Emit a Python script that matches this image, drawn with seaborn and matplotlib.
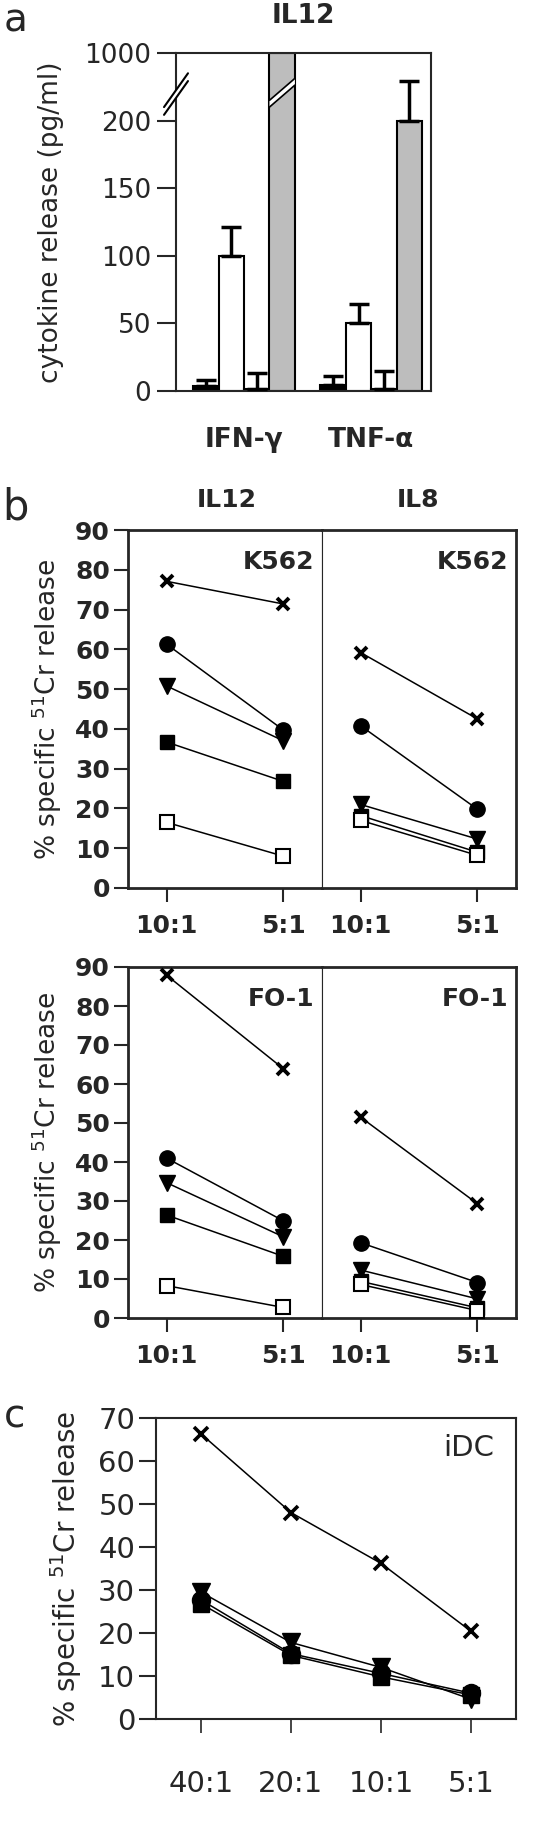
import numpy as np
import pandas as pd
import seaborn as sns
import matplotlib
matplotlib.use('Agg')
import matplotlib.pyplot as plt
import matplotlib.transforms as mtransforms
from matplotlib.patches import Polygon

sns.set_theme(style='ticks')
plt.rcParams['font.family'] = ['DejaVu Sans']
plt.rcParams['mathtext.default'] = 'regular'

# --- panel a: cytokine release (IL12) ---
cytokines = ['IFN-γ', 'TNF-α']
conditions = ['cond1', 'cond2', 'cond3', 'cond4']
release_ifn = [4, 100, 1.5, 1000]
release_tnf = [4.5, 50, 1.5, 200]
err_ifn = [4.5, 21, 12, 0]
err_tnf = [6.5, 14, 13, 29]
bar_colors = ['black', 'white', '#8c8c8c', '#bdbdbd']

# --- panel b: % specific 51Cr release, 10:1 and 5:1 ---
ratios_b = ['10:1', '5:1']
# order: cross, circle, triangle, filled square, open square
il12_k562 = [[77.1, 71.4], [61.3, 39.7], [50.8, 37.0], [36.7, 26.8], [16.5, 8.0]]
il8_k562 = [[59.2, 42.5], [40.8, 19.8], [21.0, 12.3], [18.2, 9.0], [17.0, 8.2]]
il12_fo1 = [[87.9, 63.9], [41.0, 24.9], [34.7, 20.8], [26.4, 15.8], [8.3, 2.7]]
il8_fo1 = [[51.5, 29.3], [19.3, 9.1], [12.3, 4.9], [9.4, 2.6], [8.6, 1.9]]

# --- panel c: iDC targets ---
ratios_c = ['40:1', '20:1', '10:1', '5:1']
idc = [[66.3, 48.0, 36.2, 20.4], [27.7, 15.2, 10.6, 6.0],
       [29.5, 17.8, 12.0, 4.6], [26.8, 14.8, 9.8, 5.6]]

marker_styles = [
    dict(marker='x', markersize=9, markeredgewidth=2.8, markerfacecolor='black'),
    dict(marker='o', markersize=11, markeredgewidth=1, markerfacecolor='black'),
    dict(marker='v', markersize=11, markeredgewidth=1, markerfacecolor='black'),
    dict(marker='s', markersize=10, markeredgewidth=1, markerfacecolor='black'),
    dict(marker='s', markersize=10, markeredgewidth=1.5, markerfacecolor='white'),
]

W, H = 550, 1829
fig = plt.figure(figsize=(W / 100, H / 100), dpi=100)


def rect(x0, y0, x1, y1):
    # pixel box -> figure fraction
    return [x0 / W, 1 - y1 / H, (x1 - x0) / W, (y1 - y0) / H]


FS = 18

# ================= panel a =================
ax_a = fig.add_axes(rect(176, 53, 431, 391))
df_a = pd.DataFrame({
    'cytokine': np.repeat(cytokines, len(conditions)),
    'condition': conditions * len(cytokines),
    'value': release_ifn + release_tnf,
})

BRK = 240.0  # linear up to here, then squeezed up to 1000


def fwd(v):
    v = np.asarray(v, dtype=float)
    return np.where(v <= BRK, v, BRK + (v - BRK) * 10.0 / 760.0)


def inv(u):
    u = np.asarray(u, dtype=float)
    return np.where(u <= BRK, u, BRK + (u - BRK) * 76.0)


ax_a.set_yscale('function', functions=(fwd, inv))
sns.barplot(data=df_a, x='cytokine', y='value', hue='condition', palette=bar_colors,
            edgecolor='black', linewidth=1.5, width=0.8, gap=0, legend=False,
            errorbar=None, ax=ax_a, saturation=1)

bars = sorted(ax_a.patches, key=lambda p: p.get_x())
errs = err_ifn + err_tnf
for p, e in zip(bars, errs):
    if e <= 0:
        continue
    xc = p.get_x() + p.get_width() / 2
    ax_a.errorbar([xc], [p.get_height()], yerr=[[0], [e]], fmt='none', ecolor='black',
                  elinewidth=2.5, capsize=7, capthick=2.5, zorder=4)

ax_a.set_ylim(0, 1000)
ax_a.set_xlim(-0.535, 1.47)
ax_a.set_yticks([0, 50, 100, 150, 200, 1000])
ax_a.set_yticklabels(['0', '50', '100', '150', '200', '1000'])
ax_a.yaxis.set_minor_locator(matplotlib.ticker.NullLocator())
ax_a.tick_params(axis='y', direction='out', length=14, width=1.5, labelsize=FS + 1, pad=4)
ax_a.tick_params(axis='x', length=0, pad=26, labelsize=FS + 1)
for lab in ax_a.get_xticklabels():
    lab.set_fontweight('bold')
ax_a.set_xlabel('')
ax_a.set_ylabel('cytokine release (pg/ml)', fontsize=FS + 1)
ax_a.yaxis.set_label_coords(-0.44, 0.5)
for s in ax_a.spines.values():
    s.set_linewidth(1.5)
    s.set_visible(True)

# break marks on the axis
ta = ax_a.transAxes
ax_a.add_patch(Polygon([[-0.047, 0.817], [0.047, 0.917], [0.047, 0.94], [-0.047, 0.84]],
                       closed=True, transform=ta, facecolor='white', edgecolor='none',
                       clip_on=False, zorder=5))
for dy in (0, 0.023):
    ax_a.plot([-0.047, 0.047], [0.817 + dy, 0.917 + dy], transform=ta, color='black',
              lw=1.5, clip_on=False, zorder=6)
# break on the tall bar
tall = max(bars, key=lambda p: p.get_height())
tb = mtransforms.blended_transform_factory(ax_a.transData, ax_a.transAxes)
bx0, bx1 = tall.get_x(), tall.get_x() + tall.get_width()
ax_a.add_patch(Polygon([[bx0, 0.84], [bx1, 0.905], [bx1, 0.925], [bx0, 0.86]], closed=True,
                       transform=tb, facecolor='white', edgecolor='none', zorder=5))
for yy in ((0.84, 0.905), (0.86, 0.925)):
    ax_a.plot([bx0, bx1], yy, transform=tb, color='black', lw=1.2, zorder=6)

fig.text(303 / W, 1 - 16 / H, 'IL12', ha='center', va='center', fontsize=FS + 1,
         fontweight='bold')
fig.text(4 / W, 1 - 32 / H, 'a', ha='left', va='baseline', fontsize=28)


# ================= panel b =================
def draw_series(ax, series, xlabels, styles, lw=1.1):
    xs = list(range(len(xlabels)))
    for vals, ms in zip(series, styles):
        sns.lineplot(x=xs, y=vals, ax=ax, color='black', lw=lw, markeredgecolor='black',
                     clip_on=False, zorder=3, **ms)


def style_b(ax, left, label):
    ax.set_ylim(0, 90)
    ax.set_xlim(-0.33, 1.33)
    ax.set_xticks([0, 1])
    ax.set_xticklabels(ratios_b)
    ax.set_yticks(range(0, 91, 10))
    ax.tick_params(axis='x', direction='out', length=10, width=1.5, labelsize=FS, pad=9)
    ax.tick_params(axis='y', direction='out', length=10, width=1.5, labelsize=FS, pad=3)
    for lab in ax.get_xticklabels() + ax.get_yticklabels():
        lab.set_fontweight('bold')
    for s in ax.spines.values():
        s.set_linewidth(2)
        s.set_visible(True)
    if left:
        ax.spines['right'].set_linewidth(0.8)
    else:
        ax.spines['left'].set_linewidth(0.8)
        ax.tick_params(axis='y', left=False, labelleft=False)
    ax.text(0.96, 0.91, label, transform=ax.transAxes, ha='right', va='center',
            fontsize=FS, fontweight='bold')
    ax.set_xlabel('')
    ax.set_ylabel('')


ax_b1 = fig.add_axes(rect(128, 530, 322, 888))
ax_b2 = fig.add_axes(rect(322, 530, 516, 888))
ax_b3 = fig.add_axes(rect(128, 967, 322, 1318))
ax_b4 = fig.add_axes(rect(322, 967, 516, 1318))

for ax, data, left, lab in [(ax_b1, il12_k562, True, 'K562'), (ax_b2, il8_k562, False, 'K562'),
                            (ax_b3, il12_fo1, True, 'FO-1'), (ax_b4, il8_fo1, False, 'FO-1')]:
    draw_series(ax, data, ratios_b, marker_styles)
    style_b(ax, left, lab)

ylab = '% specific $^{51}$Cr release'
for ax in (ax_b1, ax_b3):
    ax.set_ylabel(ylab, fontsize=FS + 1)
    ax.yaxis.set_label_coords(-0.33, 0.5)

fig.text(227 / W, 1 - 500 / H, 'IL12', ha='center', va='center', fontsize=FS, fontweight='bold')
fig.text(418 / W, 1 - 500 / H, 'IL8', ha='center', va='center', fontsize=FS, fontweight='bold')
fig.text(2 / W, 1 - 520 / H, 'b', ha='left', va='baseline', fontsize=30)

# ================= panel c =================
ax_c = fig.add_axes(rect(156, 1418, 516, 1719))
styles_c = [
    dict(marker='x', markersize=10, markeredgewidth=2.6, markerfacecolor='black'),
    dict(marker='o', markersize=13, markeredgewidth=1, markerfacecolor='black'),
    dict(marker='v', markersize=13, markeredgewidth=1, markerfacecolor='black'),
    dict(marker='s', markersize=12, markeredgewidth=1, markerfacecolor='black'),
]
draw_series(ax_c, idc, ratios_c, styles_c)
xs_c = list(range(len(ratios_c)))
ax_c.set_ylim(0, 70)
ax_c.set_xlim(-0.5, 3.5)
ax_c.set_xticks(xs_c)
ax_c.set_xticklabels(ratios_c)
ax_c.set_yticks(range(0, 71, 10))
ax_c.tick_params(axis='x', direction='out', length=10, width=1.2, labelsize=FS + 3, pad=27)
ax_c.tick_params(axis='y', direction='out', length=12, width=1.5, labelsize=FS + 3, pad=3)
for s in ax_c.spines.values():
    s.set_linewidth(1.5)
    s.set_visible(True)
ax_c.text(0.94, 0.90, 'iDC', transform=ax_c.transAxes, ha='right', va='center', fontsize=FS + 3)
ax_c.set_xlabel('')
ax_c.set_ylabel(ylab, fontsize=FS + 2)
ax_c.yaxis.set_label_coords(-0.2, 0.5)
fig.text(4 / W, 1 - 1427 / H, 'c', ha='left', va='baseline', fontsize=28)

fig.savefig('out.png', dpi=100)
